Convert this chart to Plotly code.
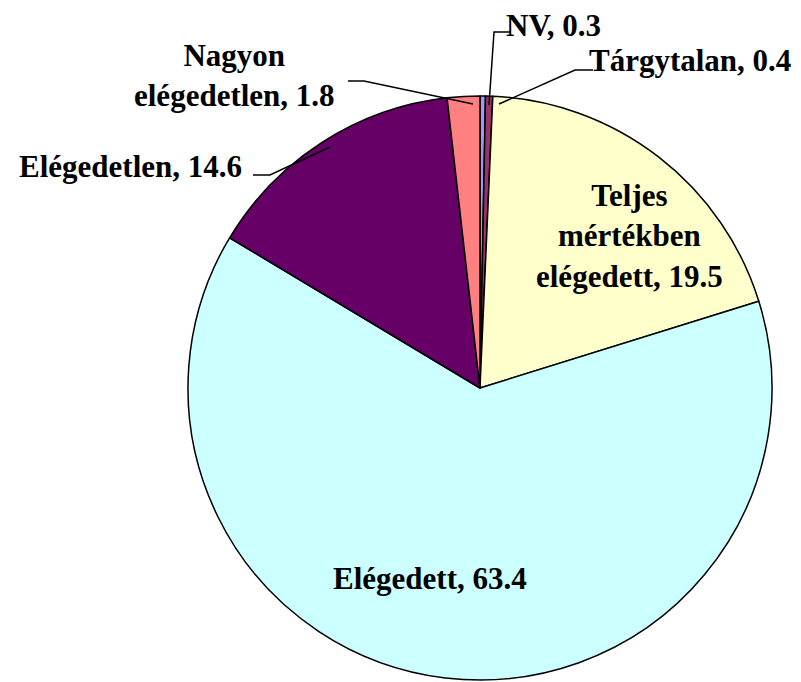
import plotly.graph_objects as go

# data, clockwise from 12 o'clock
labels = ["NV", "Tárgytalan", "Teljes mértékben elégedett", "Elégedett", "Elégedetlen", "Nagyon elégedetlen"]
values = [0.3, 0.4, 19.5, 63.4, 14.6, 1.8]
colors = ["#9999FF", "#993366", "#FFFFCC", "#CCFFFF", "#660066", "#FF8080"]

W, H = 801, 682
cx, cy, r = 472, 380, 292  # pie box (plotly draws it ~8px lower/right)

fig = go.Figure(go.Pie(
    labels=labels, values=values, sort=False, direction="clockwise", rotation=0,
    marker=dict(colors=colors, line=dict(color="black", width=1.5)),
    textinfo="none", hoverinfo="label+value",
    domain=dict(x=[(cx - r) / W, (cx + r) / W], y=[(H - cy - r) / H, (H - cy + r) / H]),
))

def px(x, y):
    return x / W, 1 - y / H

font = dict(family="Liberation Serif, Times New Roman, serif", size=31, color="black")
texts = [
    (f"NV, {values[0]}", 496, 17, "left"),
    (f"Tárgytalan, {values[1]}", 579, 52, "left"),
    (f"Teljes<br>mértékben<br>elégedett, {values[2]}", 621, 228, "center"),
    (f"Elégedett, {values[3]}", 422, 570, "center"),
    (f"Elégedetlen, {values[4]}", 236, 158, "right"),
    (f"Nagyon<br>elégedetlen, {values[5]}", 226, 67, "center"),
]
for i, (t, x, y, anchor) in enumerate(texts):
    ax, ay = px(x, y)
    extra = dict(height=30, valign="middle") if i == 0 else {}
    fig.add_annotation(x=ax, y=ay, xref="paper", yref="paper", text="<b>" + t + "</b>",
                       showarrow=False, xanchor=anchor, yanchor="middle", align="center",
                       font=font, **extra)

leaders = [
    [(502, 24), (486, 24), (481, 97)],
    [(585, 62), (567, 62), (491, 96)],
    [(340, 73), (356, 73), (465, 96)],
    [(245, 167), (262, 167), (322, 139)],
]
for pts in leaders:
    p = [px(x, y) for x, y in pts]
    path = "M " + " L ".join(f"{a},{b}" for a, b in p)
    fig.add_shape(type="path", path=path, xref="paper", yref="paper",
                  line=dict(color="black", width=1.5))

fig.update_layout(width=W, height=H, margin=dict(l=0, r=0, t=0, b=0),
                  showlegend=False, paper_bgcolor="white", plot_bgcolor="white")
fig.write_html("out.html")
